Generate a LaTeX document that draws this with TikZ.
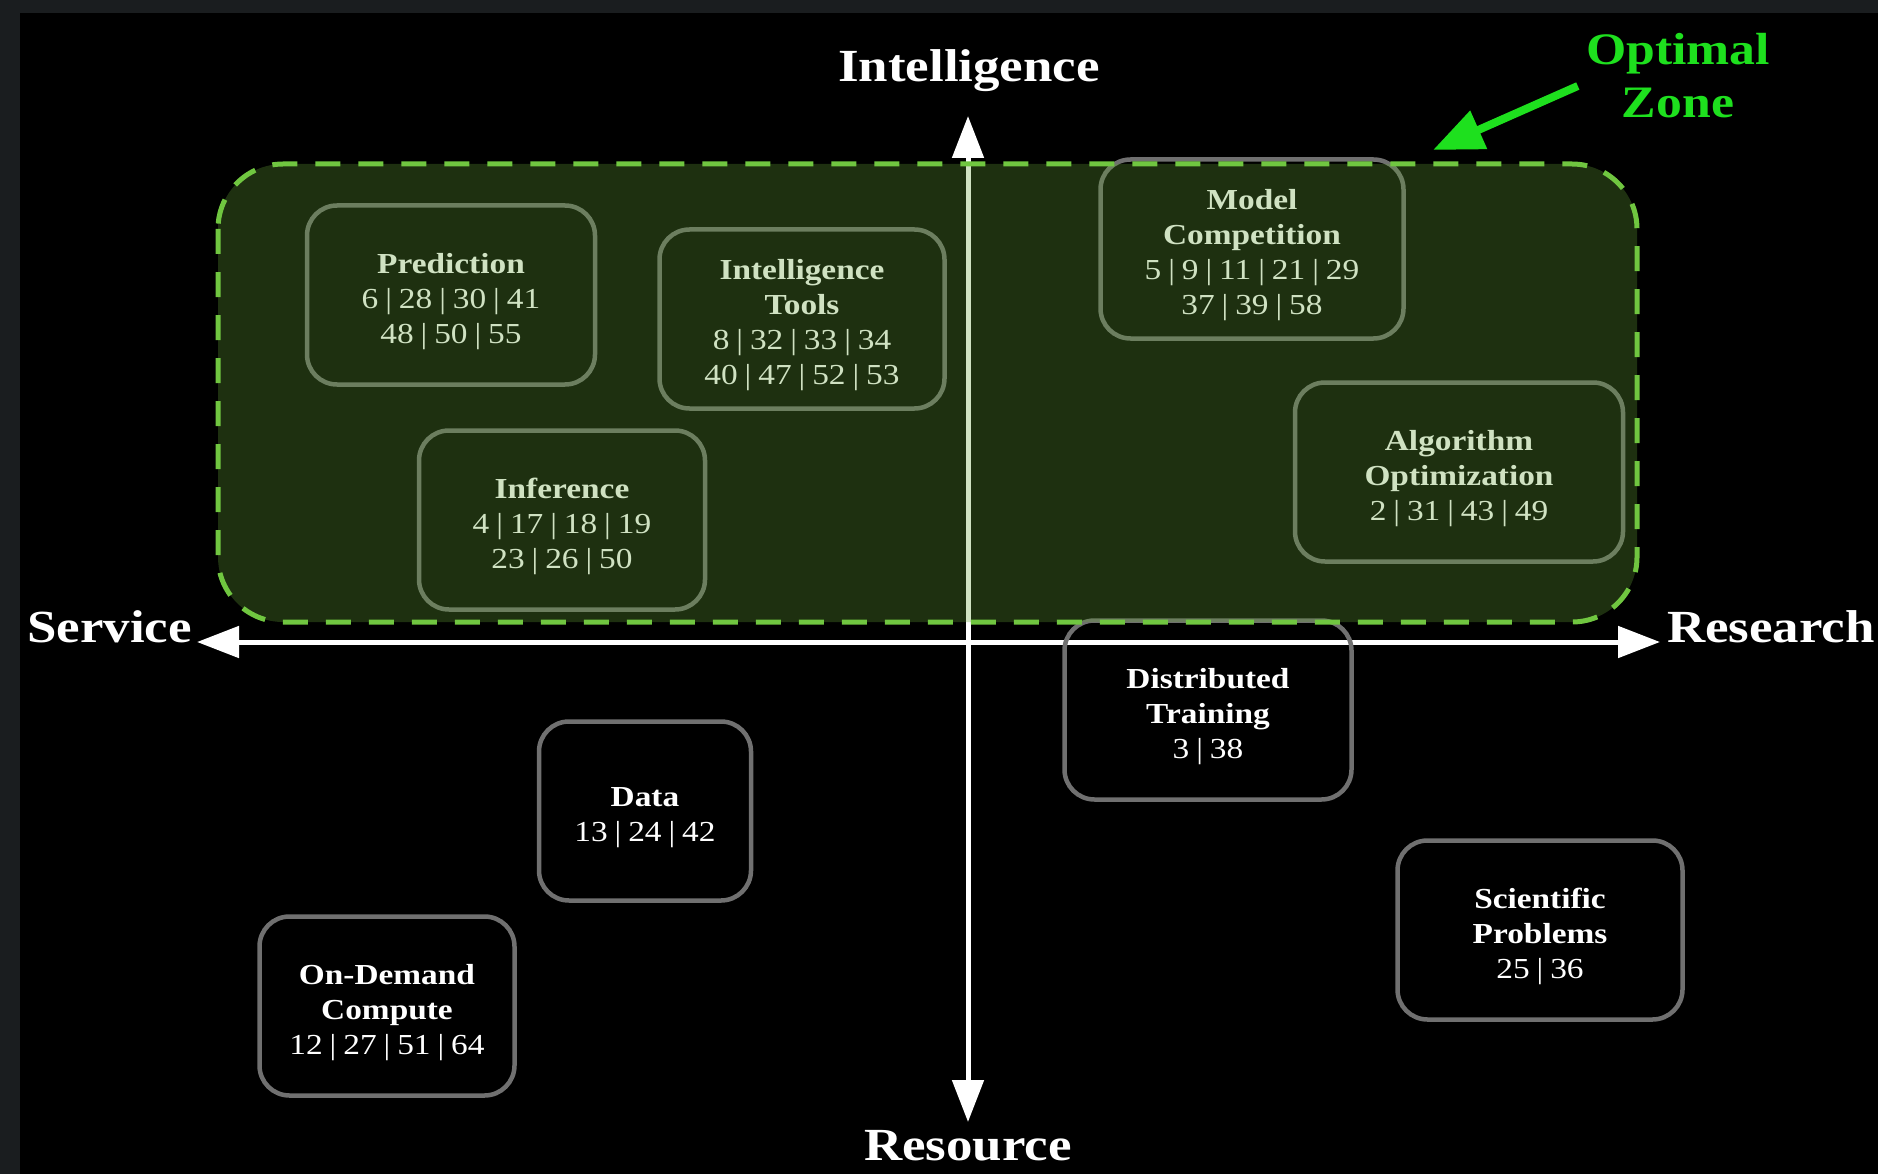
\documentclass[tikz,border=0pt]{standalone}
\usepackage{fontspec}
\setmainfont[FakeStretch=1.15]{Liberation Serif}
\usepackage{xcolor}
\usetikzlibrary{arrows.meta}
\definecolor{edgeGray}{RGB}{26,29,31}
\definecolor{boxGray}{RGB}{112,112,112}
\definecolor{zoneFill}{RGB}{100,160,56}
\definecolor{zoneDash}{RGB}{112,198,64}
\definecolor{zoneLabel}{RGB}{30,224,30}
\newcommand{\sep}{\hspace{0.24em}|\hspace{0.24em}}
\newcommand{\shead}[1]{\rule{0pt}{33pt}\textbf{#1}}

\begin{document}
\begin{tikzpicture}[x=1pt, y=-1pt,
    sector/.style={draw=boxGray, line width=4.5pt, rounded corners=30pt, align=center,
        text=white, inner sep=0pt, minimum height=179pt, font=\fontsize{29}{35}\selectfont},
    axis/.style={white, line width=5pt,
        {Triangle[length=42pt,width=31pt]}-{Triangle[length=42pt,width=31pt]}},
    axislabel/.style={white, inner sep=0pt, font=\fontsize{46}{54}\selectfont\bfseries}]
    \useasboundingbox (0,0) rectangle (1878,1174);

    % Canvas
    \fill[edgeGray] (0,0) rectangle (1878,1174);
    \fill[black] (20,13) rectangle (1878,1174);

    % Axes
    \coordinate (wTip) at (197,642);
    \coordinate (eTip) at (1660,642);
    \coordinate (nTip) at (968,116);
    \coordinate (sTip) at (968,1122);
    \draw[axis] (wTip) -- (eTip);
    \draw[axis] (nTip) -- (sTip);

    \node[axislabel, anchor=base] (intel) at (969,82) {Intelligence};
    \node[axislabel, anchor=base] (resource) at (968,1160) {Resource};
    \node[axislabel, anchor=base east] (service) at (192,642) {Service};
    \node[axislabel, anchor=base west] (research) at (1667,642) {Research};

    % Sectors
    \node[sector, minimum width=288pt] (prediction) at (451,295)
        {\shead{Prediction}\\6\sep 28\sep 30\sep 41\\48\sep 50\sep 55};
    \node[sector, minimum width=285pt] (tools) at (802,319)
        {\shead{Intelligence}\\\textbf{Tools}\\8\sep 32\sep 33\sep 34\\40\sep 47\sep 52\sep 53};
    \node[sector, minimum width=286pt] (inference) at (562,520)
        {\shead{Inference}\\4\sep 17\sep 18\sep 19\\23\sep 26\sep 50};
    \node[sector, minimum width=303pt] (competition) at (1252,249)
        {\shead{Model}\\\textbf{Competition}\\5\sep 9\sep 11\sep 21\sep 29\\37\sep 39\sep 58};
    \node[sector, minimum width=328pt] (algorithm) at (1459,472)
        {\shead{Algorithm}\\\textbf{Optimization}\\2\sep 31\sep 43\sep 49};
    \node[sector, minimum width=287pt] (distributed) at (1208,710)
        {\shead{Distributed}\\\textbf{Training}\\3\sep 38};
    \node[sector, minimum width=212pt] (data) at (645,811)
        {\shead{Data}\\13\sep 24\sep 42};
    \node[sector, minimum width=285pt] (scientific) at (1540,930)
        {\shead{Scientific}\\\textbf{Problems}\\25\sep 36};
    \node[sector, minimum width=255pt] (ondemand) at (387,1006)
        {\shead{On-Demand}\\\textbf{Compute}\\12\sep 27\sep 51\sep 64};

    % Optimal zone (tinted overlay + dashed border)
    \draw[draw=zoneDash, fill=zoneFill, fill opacity=0.3, line width=5pt,
        dash pattern=on 25pt off 18pt, rounded corners=65pt] (218,164) rectangle (1637,622);

    % Zone label
    \node[text=zoneLabel, align=center, inner sep=0pt,
        font=\fontsize{45}{53}\selectfont\bfseries] (optimal) at (1678,76) {Optimal\\Zone};
    \coordinate (zoneTip) at (1433,150);
    \draw[zoneLabel, line width=8pt, -{Triangle[length=50pt,width=40pt]}]
        ([xshift=-8pt,yshift=-10pt]optimal.west) -- (zoneTip);
\end{tikzpicture}
\end{document}
